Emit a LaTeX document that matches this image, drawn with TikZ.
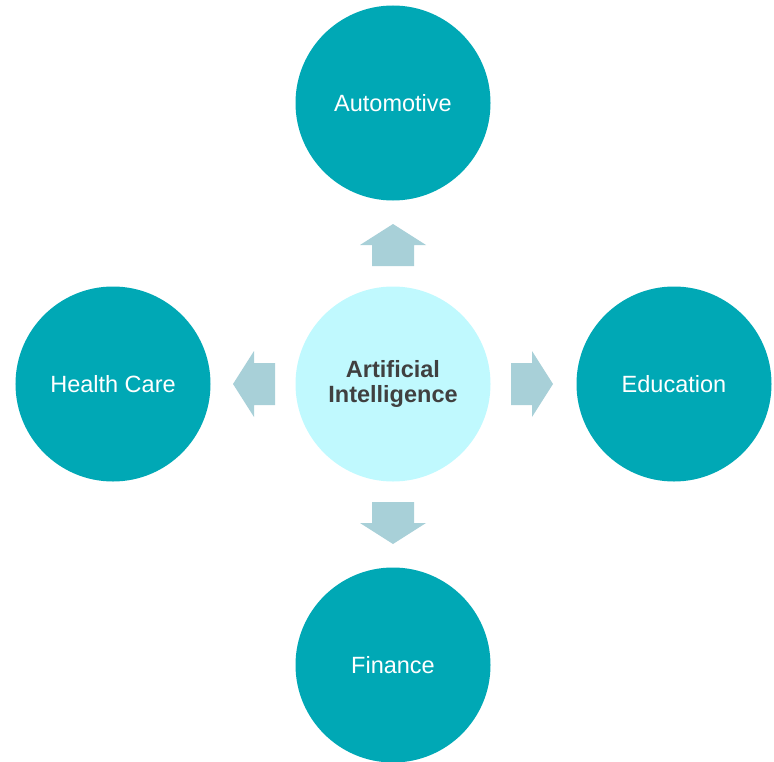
\documentclass[tikz,border=0pt]{standalone}
\usepackage{fontspec}
\setmainfont{Liberation Sans}
\definecolor{teal}{RGB}{0,168,181}
\definecolor{lightcyan}{RGB}{192,249,254}
\definecolor{arrowc}{RGB}{168,208,216}
\definecolor{txtdark}{RGB}{64,64,64}
\begin{document}
\begin{tikzpicture}[x=1bp,y=-1bp,
  outer/.style={circle,fill=teal,draw=none,minimum size=195bp,inner sep=0pt,
    text=white,font=\fontsize{23.5bp}{25bp}\selectfont,align=center},
  hub/.style={circle,fill=lightcyan,draw=none,minimum size=195bp,inner sep=0pt,
    text=txtdark,font=\fontsize{23.5bp}{25bp}\selectfont\bfseries,align=center},
  blockarrow/.style={fill=arrowc,draw=none}]
\useasboundingbox (0,0) rectangle (774,762);
\node[hub] (ai) at (393,384) {Artificial\\Intelligence};
\node[outer] (auto) at (393,103) {Automotive};
\node[outer] (fin) at (393,665) {Finance};
\node[outer] (hc) at (113,384) {Health Care};
\node[outer] (edu) at (674,384) {Education};
\foreach \a in {0,90,180,270}
  \fill[blockarrow, rotate around={\a:(393,384)}]
    (511,363)--(532,363)--(532,351)--(553,384)--(532,417)--(532,405)--(511,405)--cycle;
\end{tikzpicture}
\end{document}
